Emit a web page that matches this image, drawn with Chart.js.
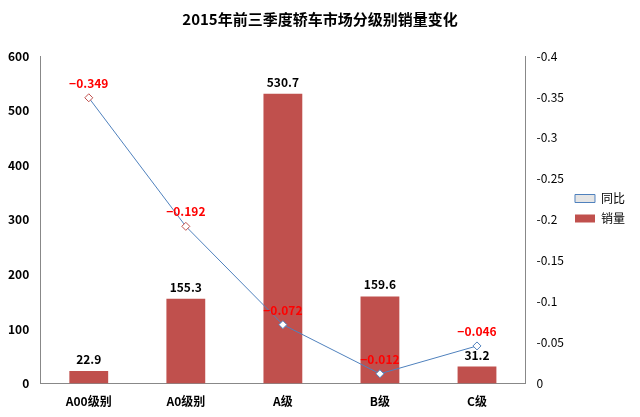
<!DOCTYPE html>
<html><head><meta charset="utf-8">
<script src="https://cdn.jsdelivr.net/npm/chart.js@4"></script>
<style>html,body{margin:0;padding:0;background:#fff}#w{width:640px;height:417px}</style>
</head><body><div id="w"><canvas id="c"></canvas></div>
<script>
const categories=["A00级别","A0级别","A级","B级","C级"];
const sales=[22.9,155.3,530.7,159.6,31.2];
const yoy=[-0.349,-0.192,-0.072,-0.012,-0.046];
const leftTicks=[0,100,200,300,400,500,600];
const rightTicks=[0,-0.05,-0.1,-0.15,-0.2,-0.25,-0.3,-0.35,-0.4];
const F="'Noto Sans CJK SC', 'DejaVu Sans', sans-serif";
const labels={id:'lbl',afterDatasetsDraw(ch){const c=ch.ctx;c.save();c.textAlign='center';c.font="bold 12px "+F;
 ch.getDatasetMeta(0).data.forEach((b,i)=>{c.fillStyle='#000';c.fillText(sales[i].toFixed(1),b.x,b.y-7);});
 ch.getDatasetMeta(1).data.forEach((p,i)=>{c.fillStyle='#FF0000';c.fillText(String(yoy[i]).replace('-','−'),p.x,p.y-10);});
 c.restore();}};
new Chart(document.getElementById('c'),{
 data:{labels:categories,datasets:[
  {type:'bar',label:'销量',data:sales,backgroundColor:'#C0504D',yAxisID:'y',barPercentage:0.4,categoryPercentage:1,order:2},
  {type:'line',label:'同比',data:yoy,yAxisID:'y1',borderColor:'#4F81BD',borderWidth:1,pointStyle:'rectRot',pointRadius:4,
   pointBackgroundColor:'#fff',pointBorderColor:['#C0504D','#C0504D','#4F81BD','#4F81BD','#4F81BD'],pointBorderWidth:1,order:1}]},
 options:{responsive:true,maintainAspectRatio:false,animation:false,
  layout:{padding:{left:5,right:5,top:5,bottom:5}},
  plugins:{title:{display:true,text:'2015年前三季度轿车市场分级别销量变化',font:{family:F,size:15,weight:'bold'},color:'#000',padding:{top:5,bottom:28}},
   legend:{position:'right',labels:{boxWidth:20,boxHeight:8,font:{family:F,size:12},color:'#000',padding:8}},tooltip:{enabled:false}},
  scales:{
   x:{grid:{display:false,drawTicks:true},border:{color:'#888'},ticks:{font:{family:F,size:12,weight:'bold'},color:'#000'}},
   y:{min:0,max:600,afterBuildTicks:a=>{a.ticks=leftTicks.map(v=>({value:v}));},grid:{display:false},border:{color:'#888'},ticks:{font:{family:F,size:12,weight:'bold'},color:'#000'}},
   y1:{position:'right',min:-0.4,max:0,reverse:true,afterBuildTicks:a=>{a.ticks=rightTicks.map(v=>({value:v}));},grid:{display:false},border:{color:'#888'},
    ticks:{font:{family:F,size:12},color:'#000',callback:v=>v===0?'0':String(+v.toFixed(2))}}}},
 plugins:[labels]});
</script></body></html>
